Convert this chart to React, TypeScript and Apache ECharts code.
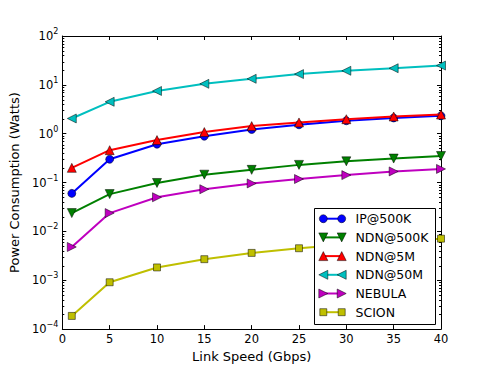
import React, { useEffect, useRef } from "react";
import * as echarts from "echarts";

const speeds = [1, 5, 10, 15, 20, 25, 30, 35, 40];
const ip500k = [0.06, 0.3, 0.61, 0.89, 1.22, 1.52, 1.84, 2.1, 2.32];
const ndn500k = [0.0237, 0.058, 0.098, 0.145, 0.182, 0.23, 0.272, 0.31, 0.35];
const ndn5m = [0.2, 0.46, 0.74, 1.08, 1.43, 1.7, 1.98, 2.25, 2.47];
const ndn50m = [2.05, 4.5, 7.5, 10.5, 13.3, 16.6, 19.4, 21.9, 24.8];
const nebula = [0.0048, 0.0237, 0.05, 0.073, 0.096, 0.118, 0.142, 0.169, 0.19];
const scion = [0.000186, 0.00091, 0.00183, 0.0027, 0.00363, 0.00452, 0.0054, 0.0063, 0.0071];

const seriesNames = ["IP@500K", "NDN@500K", "NDN@5M", "NDN@50M", "NEBULA", "SCION"];
const seriesData = [ip500k, ndn500k, ndn5m, ndn50m, nebula, scion];
const seriesColors = ["#0000ff", "#008000", "#ff0000", "#00bfbf", "#bf00bf", "#bfbf00"];
const seriesSymbols = ["circle", "triangle", "triangle", "triangle", "triangle", "rect"];
const seriesRotate = [0, 180, 0, 90, -90, 0];
const seriesSymbolSize = [8, 9, 9, 9, 9, 7];

const decades = [-4, -3, -2, -1, 0, 1];
const minorMults = [2, 3, 4, 5, 6, 7, 8, 9];

const FONT = "DejaVu Sans";

function legendMarker(kind: string, cx: number, cy: number, color: string): any {
  const s = 4.5;
  const style = { fill: color, stroke: "#000", lineWidth: 0.5 };
  if (kind === "circle") return { type: "circle", z: 101, shape: { cx, cy, r: 4 }, style };
  if (kind === "rect") return { type: "rect", z: 101, shape: { x: cx - 3.5, y: cy - 3.5, width: 7, height: 7 }, style };
  let pts: number[][] = [];
  if (kind === "up") pts = [[cx, cy - s], [cx - s, cy + s], [cx + s, cy + s]];
  if (kind === "down") pts = [[cx, cy + s], [cx - s, cy - s], [cx + s, cy - s]];
  if (kind === "left") pts = [[cx - s, cy], [cx + s, cy - s], [cx + s, cy + s]];
  if (kind === "right") pts = [[cx + s, cy], [cx - s, cy - s], [cx - s, cy + s]];
  return { type: "polygon", z: 101, shape: { points: pts }, style };
}

export default function App() {
  const ref = useRef<HTMLDivElement>(null);
  useEffect(() => {
    if (!ref.current) return;
    const chart = echarts.init(ref.current, null, { renderer: "svg" });
    const minorVals: number[] = [];
    decades.forEach((d) => minorMults.forEach((m) => minorVals.push(m * Math.pow(10, d))));

    const legendKinds = ["circle", "down", "up", "left", "right", "rect"];
    const lx = 314, ly = 208, lw = 121, lh = 116;
    const legendChildren: any[] = [
      { type: "rect", z: 100, shape: { x: lx + 0.5, y: ly + 0.5, width: lw, height: lh }, style: { fill: "#fff", stroke: "#000", lineWidth: 1 } },
    ];
    seriesNames.forEach((name, i) => {
      const cy = 218.7 + i * 18.7;
      legendChildren.push({ type: "line", z: 101, shape: { x1: 323.3, y1: cy, x2: 341.7, y2: cy }, style: { stroke: seriesColors[i], lineWidth: 2 } });
      legendChildren.push(legendMarker(legendKinds[i], 323.3, cy, seriesColors[i]));
      legendChildren.push(legendMarker(legendKinds[i], 341.7, cy, seriesColors[i]));
      legendChildren.push({ type: "text", z: 101, x: 355.5, y: cy, style: { text: name, font: `12.5px '${FONT}'`, fill: "#000", verticalAlign: "middle", align: "left" } });
    });

    const axisLabelRich = {
      b: { fontFamily: FONT, fontSize: 11.5, color: "#000" },
      s: { fontFamily: FONT, fontSize: 8, color: "#000", padding: [0, 0, 9, 0] },
    };

    const option: any = {
      animation: false,
      backgroundColor: "#fff",
      grid: { left: 61, right: 50, top: 36, bottom: 37, containLabel: false },
      xAxis: [
        {
          type: "value", min: 0, max: 40, interval: 5, position: "bottom",
          name: "Link Speed (Gbps)", nameLocation: "middle", nameGap: 16,
          nameTextStyle: { fontFamily: FONT, fontSize: 13, color: "#000" },
          axisLine: { show: true, onZero: false, lineStyle: { color: "#000", width: 1 } },
          axisTick: { show: true, inside: true, length: 4, lineStyle: { color: "#000" } },
          axisLabel: { show: true, margin: 4, fontFamily: FONT, fontSize: 11.5, color: "#000" },
          splitLine: { show: false },
        },
        {
          type: "value", min: 0, max: 40, interval: 5, position: "top",
          axisLine: { show: true, onZero: false, lineStyle: { color: "#000", width: 1 } },
          axisTick: { show: true, inside: true, length: 4, lineStyle: { color: "#000" } },
          axisLabel: { show: false },
          splitLine: { show: false },
        },
      ],
      yAxis: [
        {
          type: "log", logBase: 10, min: 1e-4, max: 100, interval: 1, position: "left",
          name: "Power Consumption (Watts)", nameLocation: "middle", nameGap: 28,
          nameTextStyle: { fontFamily: FONT, fontSize: 13, color: "#000" },
          axisLine: { show: true, onZero: false, lineStyle: { color: "#000", width: 1 } },
          axisTick: { show: true, inside: true, length: 4, lineStyle: { color: "#000" } },
          axisLabel: {
            show: true, margin: 4,
            formatter: (v: number) => {
              const e = Math.round(Math.log10(v));
              return `{b|10}{s|${e < 0 ? "\u2212" + Math.abs(e) : e}}`;
            },
            rich: axisLabelRich,
          },
          splitLine: { show: false },
          minorTick: { show: false },
        },
        {
          type: "log", logBase: 10, min: 1e-4, max: 100, interval: 1, position: "right",
          axisLine: { show: true, onZero: false, lineStyle: { color: "#000", width: 1 } },
          axisTick: { show: true, inside: true, length: 4, lineStyle: { color: "#000" } },
          axisLabel: { show: false },
          splitLine: { show: false },
        },
      ],
      series: [
        {
          type: "custom",
          silent: true,
          xAxisIndex: 0,
          yAxisIndex: 0,
          data: minorVals.map((v) => [0, v]),
          encode: { x: 0, y: 1 },
          z: 1,
          renderItem: (params: any, api: any) => {
            const v = api.value(1);
            const p = api.coord([0, v]);
            const q = api.coord([40, v]);
            const y = Math.round(p[1]) + 0.5;
            return {
              type: "group",
              children: [
                { type: "line", shape: { x1: p[0], y1: y, x2: p[0] + 2, y2: y }, style: { stroke: "#000", lineWidth: 1 } },
                { type: "line", shape: { x1: q[0], y1: y, x2: q[0] - 2, y2: y }, style: { stroke: "#000", lineWidth: 1 } },
              ],
            };
          },
        },
        ...seriesNames.map((name, i) => ({
          type: "line",
          name,
          xAxisIndex: 0,
          yAxisIndex: 0,
          data: speeds.map((s, j) => [s, seriesData[i][j]]),
          symbol: seriesSymbols[i],
          symbolRotate: seriesRotate[i],
          symbolSize: seriesSymbolSize[i],
          showAllSymbol: true,
          color: seriesColors[i],
          lineStyle: { color: seriesColors[i], width: 2 },
          itemStyle: { color: seriesColors[i], borderColor: "#000", borderWidth: 0.5 },
          z: 2 + i,
          clip: false,
        })),
      ],
      graphic: [{ type: "group", z: 100, children: legendChildren }],
    };
    chart.setOption(option);
    return () => chart.dispose();
  }, []);
  return (
    <div
      ref={ref}
      style={{ position: "fixed", left: 0, top: 0, width: 491, height: 368, background: "#fff" }}
    />
  );
}
